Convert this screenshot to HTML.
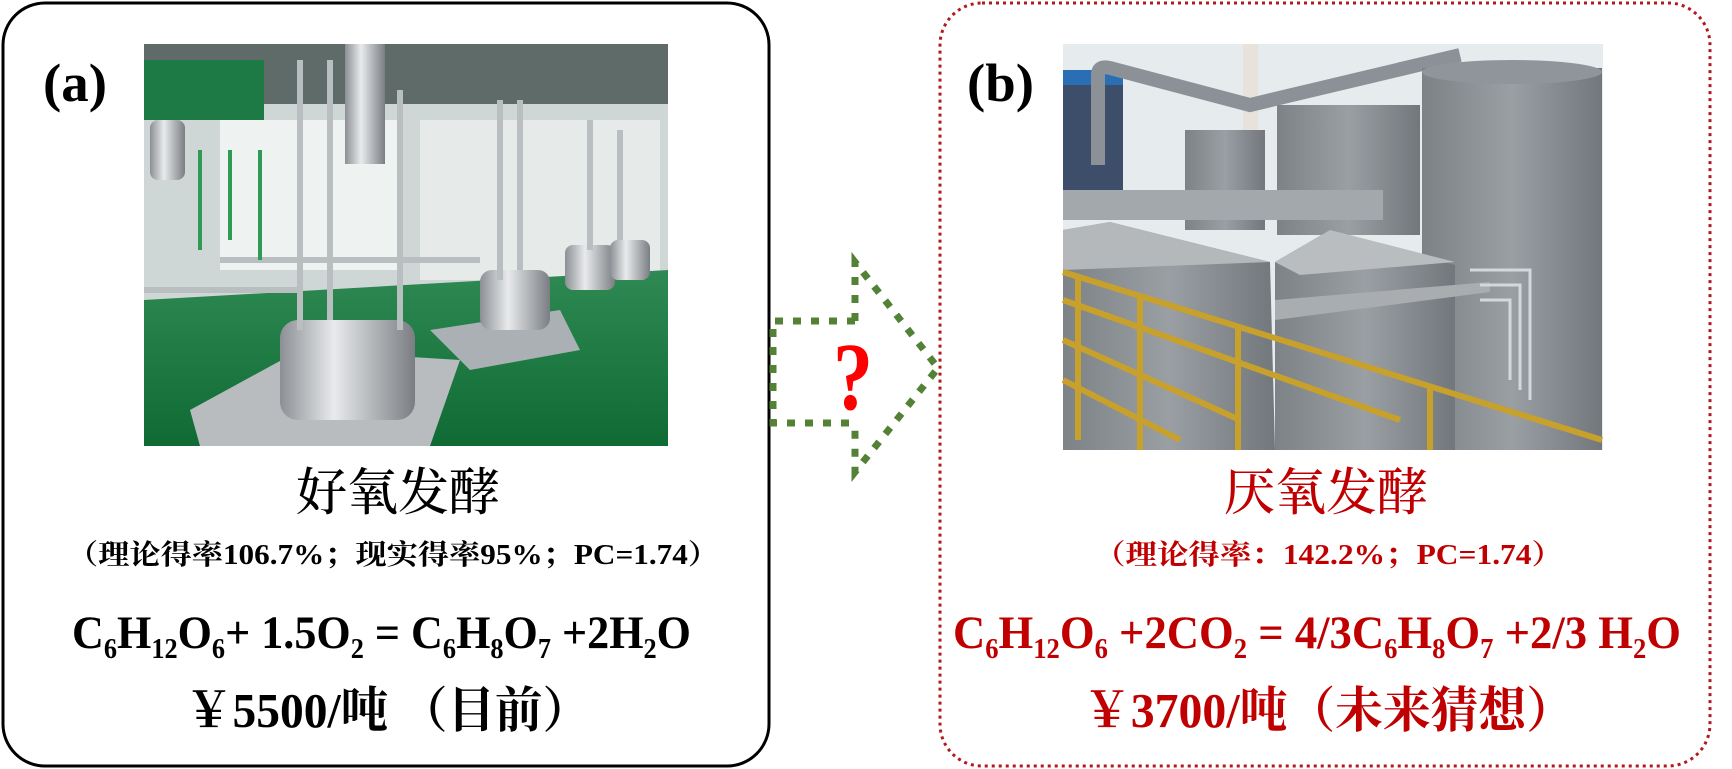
<!DOCTYPE html>
<html><head><meta charset="utf-8"><style>
html,body{margin:0;padding:0;background:#fff;width:1732px;height:769px;overflow:hidden}
svg{display:block}
.t{font-family:"Liberation Serif","Noto Serif CJK SC",serif;font-weight:bold}
</style></head><body>
<svg width="1732" height="769" viewBox="0 0 1732 769" xmlns="http://www.w3.org/2000/svg">
<defs>
<linearGradient id="fl" x1="0" y1="0" x2="0" y2="1"><stop offset="0" stop-color="#2e8a52"/><stop offset="1" stop-color="#0f6a34"/></linearGradient>
<linearGradient id="st" x1="0" y1="0" x2="1" y2="0"><stop offset="0" stop-color="#8c9094"/><stop offset=".4" stop-color="#e8eaec"/><stop offset="1" stop-color="#7a7e82"/></linearGradient>
<linearGradient id="tk" x1="0" y1="0" x2="1" y2="0"><stop offset="0" stop-color="#7d8287"/><stop offset=".5" stop-color="#9a9fa4"/><stop offset="1" stop-color="#72777c"/></linearGradient>
</defs>
<rect x="3" y="3" width="766" height="763" rx="42" fill="#fff" stroke="#000" stroke-width="3"/>
<rect x="940" y="3" width="770" height="763" rx="42" fill="#fff" stroke="#b0191e" stroke-width="3" stroke-dasharray="3 4"/>

<g>
<rect x="144" y="44" width="524" height="402" fill="#cfd6d6"/>
<rect x="144" y="44" width="524" height="60" fill="#5e6b68"/>
<rect x="144" y="60" width="120" height="60" fill="#1d7a45"/>
<rect x="220" y="120" width="180" height="150" fill="#eef2f1"/>
<rect x="420" y="120" width="240" height="160" fill="#e6ebea"/>
<polygon points="144,300 668,270 668,446 144,446" fill="url(#fl)"/>
<polygon points="190,410 300,350 460,360 430,446 200,446" fill="#b8bcbf"/>
<polygon points="430,330 560,310 580,350 470,370" fill="#aab0b3"/>
<rect x="345" y="44" width="40" height="120" fill="url(#st)"/>
<rect x="280" y="320" width="135" height="100" rx="18" fill="url(#st)"/>
<rect x="480" y="270" width="70" height="60" rx="12" fill="url(#st)"/>
<rect x="565" y="245" width="50" height="45" rx="8" fill="url(#st)"/>
<rect x="610" y="240" width="40" height="40" rx="8" fill="url(#st)"/>
<rect x="150" y="120" width="35" height="60" rx="8" fill="url(#st)"/>
<g stroke="#b9bec1" stroke-width="6" fill="none">
<path d="M300 60V330M330 60V320M400 90V330M500 100V280M520 100V270M590 120V250M620 130V240"/>
<path d="M144 290H300M220 260H480"/>
</g>
<g stroke="#2f9a55" stroke-width="4" fill="none"><path d="M200 150V250M230 150V240M260 150V260"/></g>
</g>

<g>
<rect x="1063" y="44" width="540" height="406" fill="#e6ebee"/>
<rect x="1063" y="80" width="60" height="110" fill="#3c4e6a"/>
<rect x="1063" y="70" width="60" height="15" fill="#2a6fb5"/>
<rect x="1243" y="44" width="15" height="110" fill="#e8e2dc"/>
<path d="M1098 165V75Q1098 65 1110 68L1250 105L1460 55" stroke="#8b9196" stroke-width="14" fill="none"/>
<rect x="1185" y="130" width="80" height="100" fill="url(#tk)"/>
<rect x="1277" y="105" width="143" height="130" fill="url(#tk)"/>
<rect x="1422" y="68" width="180" height="382" fill="url(#tk)"/>
<ellipse cx="1512" cy="72" rx="90" ry="12" fill="#8f959a"/>
<rect x="1063" y="190" width="320" height="30" fill="#a3a8ac"/>
<polygon points="1063,230 1110,222 1270,262 1275,450 1063,450" fill="url(#tk)"/>
<polygon points="1063,230 1110,222 1270,262 1063,270" fill="#b4b8bb"/>
<polygon points="1275,262 1330,230 1455,265 1455,450 1275,450" fill="url(#tk)"/>
<polygon points="1275,262 1330,230 1455,262 1300,275" fill="#b9bdc0"/>
<polygon points="1275,300 1490,282 1490,292 1275,320" fill="#a9adb0"/>
<g stroke="#c8a02c" stroke-width="6" fill="none">
<path d="M1063 272L1602 440"/>
<path d="M1063 300L1400 420M1063 340L1240 420M1063 380L1180 440"/>
<path d="M1078 275V440M1140 295V450M1238 325V450M1430 385V450"/>
</g>
<g stroke="#d4d8db" stroke-width="3" fill="none"><path d="M1470 270H1530V400M1480 285H1520V390M1480 300H1510V380"/></g>
</g>

<g stroke="#538135" stroke-width="7" fill="none" stroke-dasharray="8 10">
<path d="M855 321H773V423H855"/>
<path d="M855 321V262L938 368L855 472V423"/>
</g>
<text x="853" y="409" text-anchor="middle" class="t" font-size="96" fill="#ff0000" textLength="40" lengthAdjust="spacingAndGlyphs">?</text>

<text x="43" y="101" class="t" font-size="54" textLength="64" lengthAdjust="spacingAndGlyphs">(a)</text>
<text x="967" y="101" class="t" font-size="54" textLength="67" lengthAdjust="spacingAndGlyphs">(b)</text>

<text x="398" y="510" text-anchor="middle" class="t" font-size="51" style="font-weight:500" textLength="204" lengthAdjust="spacingAndGlyphs">好氧发酵</text>
<text x="67" y="564" class="t" font-size="28" textLength="652" lengthAdjust="spacingAndGlyphs">（理论得率106.7%；现实得率95%；PC=1.74）</text>
<text x="72" y="648" class="t" font-size="47" textLength="619" lengthAdjust="spacingAndGlyphs">C<tspan font-size="28" dy="10">6</tspan><tspan dy="-10">H</tspan><tspan font-size="28" dy="10">12</tspan><tspan dy="-10">O</tspan><tspan font-size="28" dy="10">6</tspan><tspan dy="-10">+ 1.5O</tspan><tspan font-size="28" dy="10">2</tspan><tspan dy="-10"> = C</tspan><tspan font-size="28" dy="10">6</tspan><tspan dy="-10">H</tspan><tspan font-size="28" dy="10">8</tspan><tspan dy="-10">O</tspan><tspan font-size="28" dy="10">7</tspan><tspan dy="-10"> +2H</tspan><tspan font-size="28" dy="10">2</tspan><tspan dy="-10">O</tspan></text>
<text x="185" y="727" class="t" font-size="49" textLength="405" lengthAdjust="spacingAndGlyphs">￥5500/吨 （目前）</text>

<g fill="#c00000">
<text x="1326" y="510" text-anchor="middle" class="t" font-size="51" style="font-weight:500" textLength="204" lengthAdjust="spacingAndGlyphs">厌氧发酵</text>
<text x="1094" y="564" class="t" font-size="28" textLength="469" lengthAdjust="spacingAndGlyphs">（理论得率：142.2%；PC=1.74）</text>
<text x="953" y="648" class="t" font-size="47" textLength="728" lengthAdjust="spacingAndGlyphs">C<tspan font-size="28" dy="10">6</tspan><tspan dy="-10">H</tspan><tspan font-size="28" dy="10">12</tspan><tspan dy="-10">O</tspan><tspan font-size="28" dy="10">6</tspan><tspan dy="-10"> +2CO</tspan><tspan font-size="28" dy="10">2</tspan><tspan dy="-10"> = 4/3C</tspan><tspan font-size="28" dy="10">6</tspan><tspan dy="-10">H</tspan><tspan font-size="28" dy="10">8</tspan><tspan dy="-10">O</tspan><tspan font-size="28" dy="10">7</tspan><tspan dy="-10"> +2/3 H</tspan><tspan font-size="28" dy="10">2</tspan><tspan dy="-10">O</tspan></text>
<text x="1083" y="727" class="t" font-size="49" textLength="491" lengthAdjust="spacingAndGlyphs">￥3700/吨（未来猜想）</text>
</g>
</svg>
</body></html>
